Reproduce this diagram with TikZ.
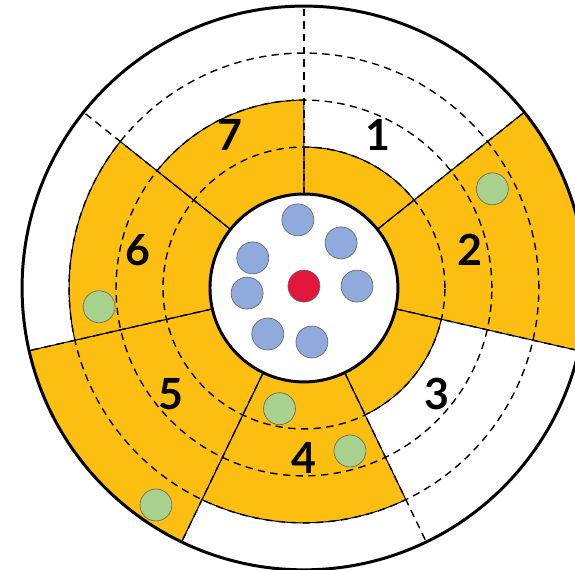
\documentclass[tikz,border=0pt]{standalone}
\usepackage{fontspec}
\setmainfont{Lato}
\usetikzlibrary{positioning}
\definecolor{sectc}{RGB}{252,190,16}
\definecolor{cellc}{RGB}{143,170,220}
\definecolor{corec}{RGB}{226,22,60}
\definecolor{markc}{RGB}{169,209,142}

\begin{document}
\begin{tikzpicture}[font=\fontsize{26}{26}\selectfont\bfseries,line join=round]
\tikzstyle{ring}=[draw,dash pattern=on 4.5pt off 3.2pt,line width=0.85pt]
\tikzstyle{sect}=[fill=sectc,draw,line width=0.6pt]
\tikzstyle{dot}=[circle,draw=black!60,line width=0.4pt,minimum size=0.68cm,inner sep=0pt]
\useasboundingbox (-6.47,-6.0) rectangle (5.77,6.13);
% sectors, clockwise from the top: index/outer radius
\foreach \i/\r in {1/3,2/6,3/3,4/5,5/6,6/5,7/4}{
  \pgfmathsetmacro{\a}{90-(\i-1)*360/7}
  \pgfmathsetmacro{\b}{90-\i*360/7}
  \draw[sect] (\a:2) -- (\a:\r) arc[start angle=\a,end angle=\b,radius=\r] -- (\b:2) -- cycle;
}
% rings and spokes
\foreach \r in {3,4,5} \draw[ring] (0,0) circle[radius=\r];
\foreach \i in {0,...,6} \draw[ring] ({90-\i*360/7}:2) -- ({90-\i*360/7}:6);
\draw[line width=1.8pt,fill=white] (0,0) circle[radius=2];
\draw[line width=1.8pt] (0,0) circle[radius=6];
% centre
\node[dot,fill=corec] (core) at (0,0.04) {};
\node[dot,fill=cellc] (c1) at (-0.13,1.45) {};
\node[dot,fill=cellc] (c2) at (0.79,0.96) {};
\node[dot,fill=cellc] (c3) at (-1.09,0.64) {};
\node[dot,fill=cellc] (c4) at (-1.21,-0.11) {};
\node[dot,fill=cellc] (c5) at (1.13,0.04) {};
\node[dot,fill=cellc] (c6) at (-0.77,-0.98) {};
\node[dot,fill=cellc] (c7) at (0.17,-1.15) {};
% markers in the sectors
\node[dot,fill=markc] (m2) at (4.01,2.11) {};
\node[dot,fill=markc] (m4a) at (-0.52,-2.57) {};
\node[dot,fill=markc] (m4b) at (0.98,-3.47) {};
\node[dot,fill=markc] (m5) at (-3.15,-4.62) {};
\node[dot,fill=markc] (m6) at (-4.36,-0.40) {};
% sector numbers
\foreach \i in {1,...,7} \node (n\i) at ({90-(\i-0.5)*360/7}:3.62) {\i};
\end{tikzpicture}
\end{document}
